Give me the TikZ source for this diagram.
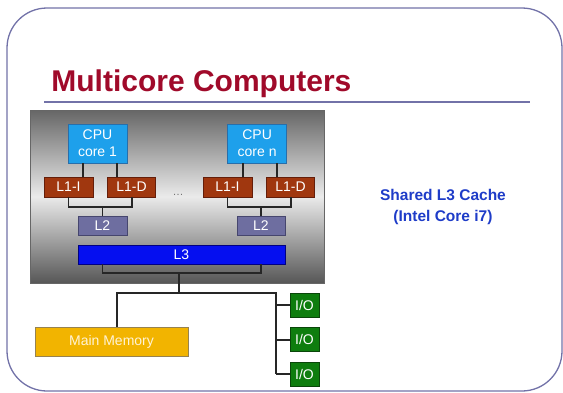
\documentclass[tikz,border=0pt]{standalone}
\usepackage{fontspec}
\setmainfont{Liberation Sans}
\usetikzlibrary{positioning, calc}
\definecolor{titlered}{RGB}{160,10,42}
\definecolor{rulecol}{RGB}{114,114,168}
\definecolor{cpublue}{RGB}{30,160,235}
\definecolor{cpuedge}{RGB}{40,110,170}
\definecolor{lonered}{RGB}{160,55,15}
\definecolor{loneedge}{RGB}{100,30,10}
\definecolor{ltwocol}{RGB}{110,110,160}
\definecolor{ltwoedge}{RGB}{70,70,110}
\definecolor{lthreecol}{RGB}{5,15,240}
\definecolor{lthreeedge}{RGB}{0,0,130}
\definecolor{memcol}{RGB}{242,180,0}
\definecolor{memedge}{RGB}{150,130,80}
\definecolor{memtext}{RGB}{255,243,214}
\definecolor{iogreen}{RGB}{14,125,14}
\definecolor{ioedge}{RGB}{10,70,10}
\definecolor{sideblue}{RGB}{30,60,200}

\begin{document}
\begin{tikzpicture}[
  x=1pt, y=-1pt,
  thick,
  box/.style={draw=#1, line width=0.6pt, inner sep=0pt, text=white, align=center, font=\fontsize{14}{17}\selectfont},
  cpu/.style={box=cpuedge, fill=cpublue, minimum width=59pt, minimum height=39pt},
  lone/.style={box=loneedge, fill=lonered, minimum width=48pt, minimum height=20pt},
  ltwo/.style={box=ltwoedge, fill=ltwocol, minimum width=48pt, minimum height=19pt},
  io/.style={box=ioedge, fill=iogreen, minimum width=29pt, minimum height=24pt},
  wire/.style={line width=1.8pt, black!85},
  frame/.style={draw=rulecol, line width=1.3pt, rounded corners=40pt}
]
  \clip (0,0) rectangle (563,392);
  \draw[frame] (7,8) rectangle (562,391);

  % Title
  \node[anchor=base west, inner sep=0pt, text=titlered, font=\fontsize{30}{36}\selectfont\bfseries] (title) at (51,91) {Multicore Computers};
  \draw[rulecol, line width=2pt] (44,102) -- (530,102);

  % Chip
  \shade[top color=black!60, bottom color=black!66, middle color=black!8] (30,110) rectangle (324,283);
  \draw[black!60, line width=0.5pt] (30,110) rectangle (324,283);

  % Nodes
  \node[cpu] (cpu1) at (97.5,143.5) {CPU\\core 1};
  \node[cpu, right=100pt of cpu1] (cpun) {CPU\\core n};
  \node[lone, minimum width=49pt] (l1i1) at (68.5,187) {L1-I};
  \node[lone, right=14pt of l1i1] (l1d1) {L1-D};
  \node[lone, minimum width=49pt] (l1in) at (227.5,187) {L1-I};
  \node[lone, right=14pt of l1in] (l1dn) {L1-D};
  \node[ltwo, minimum width=49pt] (l2a) at (102.5,225.5) {L2};
  \node[ltwo] (l2n) at (261,225.5) {L2};
  \node[box=lthreeedge, fill=lthreecol, minimum width=207pt, minimum height=19pt] (l3) at (181.5,254.5) {L3};
  \node[text=black!55, font=\fontsize{11}{11}\selectfont] (dots) at (178,195) {\dots};

  \node[box=memedge, fill=memcol, text=memtext, minimum width=153pt, minimum height=29pt] (mem) at (111.5,341.5) {Main Memory};
  \node[io] (io1) at (304.5,305) {I/O};
  \node[io, below=10pt of io1] (io2) {I/O};
  \node[io, below=10pt of io2] (io3) {I/O};

  \node[text=sideblue, align=center, font=\fontsize{15.5}{21}\selectfont\bfseries] (note) at (443,206.5) {Shared L3 Cache\\(Intel Core i7)};

  % Paths
  \foreach \c in {cpu1, cpun} {
    \draw[wire] ([xshift=-14.5pt]\c.south) -- ++(0,14);
    \draw[wire] ([xshift=19.5pt]\c.south) -- ++(0,14);
  }
  \draw[wire] (l1i1.south) -- ++(0,10) coordinate (j1) -| (l1d1.south);
  \draw[wire] (l2a.north) -- (l2a.north |- j1);
  \draw[wire] (l1in.south) -- ++(0,10) coordinate (jn) -| (l1dn.south);
  \draw[wire] (l2n.north) -- (l2n.north |- jn);

  \draw[wire] (l3.south -| l2a) -- ++(0,9) coordinate (j3) -| (l3.south -| l2n);
  \coordinate (bus) at (179,293);
  \coordinate (iobus) at (276,293);
  \draw[wire] (bus |- j3) -- (bus);
  \draw[wire] ([xshift=5.5pt]mem.north) |- (iobus) -- (iobus |- io3.west);
  \foreach \n in {1,2,3}
    \draw[wire] (iobus |- io\n.west) -- (io\n.west);
\end{tikzpicture}
\end{document}
